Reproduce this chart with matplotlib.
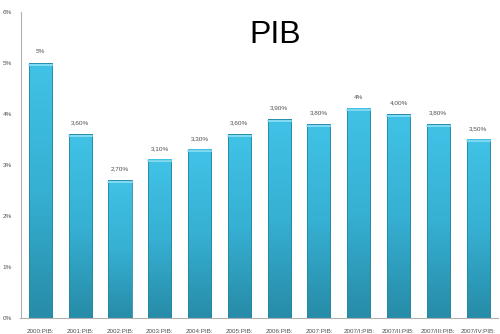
import numpy as np
import matplotlib
matplotlib.use("Agg")
import matplotlib.pyplot as plt
from matplotlib.colors import LinearSegmentedColormap

categories = ["2000:PIB:", "2001:PIB:", "2002:PIB:", "2003:PIB:", "2004:PIB:", "2005:PIB:",
              "2006:PIB:", "2007:PIB:", "2007/I:PIB:", "2007/II:PIB:", "2007/III:PIB:", "2007/IV:PIB:"]
values = [5.0, 3.6, 2.7, 3.1, 3.3, 3.6, 3.9, 3.8, 4.1, 4.0, 3.8, 3.5]
value_labels = ["5%", "3,60%", "2,70%", "3,10%", "3,30%", "3,60%",
                "3,90%", "3,80%", "4%", "4,00%", "3,80%", "3,50%"]
yticks = [0, 1, 2, 3, 4, 5, 6]
ytick_labels = ["0%", "1%", "2%", "3%", "4%", "5%", "6%"]

plt.rcParams["font.family"] = ["Liberation Sans", "DejaVu Sans"]

fig = plt.figure(figsize=(5.0, 3.34), dpi=100)
ax = fig.add_axes([0.041, 0.048, 0.955, 0.916])

cmap = LinearSegmentedColormap.from_list("bar", ["#278ca8", "#36b0d3", "#40c2e6"])
grad = np.linspace(0, 1, 100).reshape(-1, 1)
width = 0.58
x = np.arange(len(categories))

bars = ax.bar(x, values, width=width, color="none", edgecolor="#2586a3", linewidth=0.6, zorder=3)
for b in bars:
    x0, w, h = b.get_x(), b.get_width(), b.get_height()
    ax.imshow(grad, extent=[x0, x0 + w, 0, h], origin="lower", aspect="auto",
              cmap=cmap, zorder=2)
    # light top edge
    ax.plot([x0, x0 + w], [h - 0.03, h - 0.03], color="#8fe0f5", linewidth=1.2, zorder=4)

for xi, v, lab in zip(x, values, value_labels):
    ax.text(xi, v + 0.17, lab, ha="center", va="bottom", fontsize=4.6, color="#505050")

ax.set_xlim(-0.5, len(categories) - 0.5)
ax.set_ylim(0, 6)
ax.set_xticks(x)
ax.set_xticklabels(categories, fontsize=4.5, color="#505050")
ax.set_yticks(yticks)
ax.set_yticklabels(ytick_labels, fontsize=4.6, color="#505050")
ax.tick_params(axis="x", length=0, pad=8)
ax.tick_params(axis="y", length=0, pad=6)
for s in ["top", "right"]:
    ax.spines[s].set_visible(False)
for s in ["left", "bottom"]:
    ax.spines[s].set_color("#b0b0b0")
    ax.spines[s].set_linewidth(0.8)

fig.text(0.55, 0.895, "PIB", fontsize=23, ha="center", va="center", color="black")

fig.savefig("out.png", dpi=100)
